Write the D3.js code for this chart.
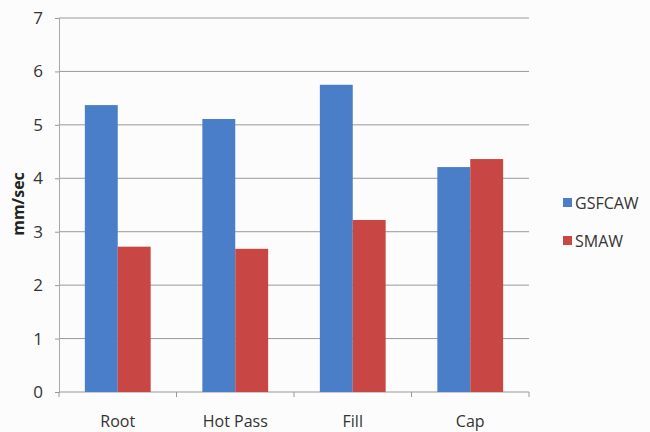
<!DOCTYPE html>
<html>
<head>
<meta charset="utf-8">
<script src="https://cdn.jsdelivr.net/npm/d3@7"></script>
<style>
  html, body { margin: 0; padding: 0; background: #fcfcfc; }
  svg { display: block; }
</style>
</head>
<body>
<svg id="chart" width="650" height="432"></svg>
<script>
// Welding travel speed by pass
const categories = ["Root", "Hot Pass", "Fill", "Cap"];
const seriesNames = ["GSFCAW", "SMAW"];
const gsfcaw = [5.37, 5.11, 5.75, 4.21];
const smaw = [2.72, 2.68, 3.22, 4.36];
const yTicks = [0, 1, 2, 3, 4, 5, 6, 7];
const colors = ["#4b7ec8", "#c84644"];

const svg = d3.select("#chart");
const plot = { left: 59, right: 529, top: 18, bottom: 392 };

const x = d3.scaleBand().domain(categories).range([plot.left, plot.right]).paddingInner(0.44).paddingOuter(0.22);
const xs = d3.scaleBand().domain(seriesNames).range([0, x.bandwidth()]);
const y = d3.scaleLinear().domain([0, 7]).range([plot.bottom, plot.top]);

const font = "'Open Sans', 'Noto Sans', sans-serif";

// horizontal gridlines
svg.append("g").selectAll("line").data(yTicks.filter(d => d > 0)).join("line")
  .attr("x1", plot.left).attr("x2", plot.right)
  .attr("y1", d => y(d)).attr("y2", d => y(d))
  .attr("stroke", "#999").attr("stroke-width", 1);

// y axis
const yAxis = svg.append("g").attr("transform", `translate(${plot.left},0)`)
  .call(d3.axisLeft(y).tickValues(yTicks).tickSize(4).tickPadding(12).tickFormat(d3.format("d")));
yAxis.select(".domain").attr("stroke", "#aaa");
yAxis.selectAll(".tick line").attr("stroke", "#999");
yAxis.selectAll("text").attr("font-family", font).attr("font-size", 17).attr("fill", "#333");

// x axis with ticks at category boundaries
const xAxisG = svg.append("g").attr("transform", `translate(0,${plot.bottom})`);
xAxisG.append("line").attr("x1", plot.left).attr("x2", plot.right)
  .attr("stroke", "#999");
const step = (plot.right - plot.left) / categories.length;
xAxisG.selectAll("line.tk").data(d3.range(categories.length + 1)).join("line")
  .attr("class", "tk")
  .attr("x1", i => plot.left + i * step).attr("x2", i => plot.left + i * step)
  .attr("y1", 0).attr("y2", 5).attr("stroke", "#999");
xAxisG.selectAll("text").data(categories).join("text")
  .attr("x", d => x(d) + x.bandwidth() / 2).attr("y", 35)
  .attr("text-anchor", "middle")
  .attr("font-family", font).attr("font-size", 16).attr("fill", "#333")
  .text(d => d);

// bars
const rows = categories.map((c, i) => ({ cat: c, vals: [gsfcaw[i], smaw[i]] }));
const groups = svg.append("g").selectAll("g").data(rows).join("g")
  .attr("transform", d => `translate(${x(d.cat)},0)`);
groups.selectAll("rect").data(d => d.vals.map((v, j) => ({ name: seriesNames[j], v, j }))).join("rect")
  .attr("x", d => xs(d.name)).attr("width", xs.bandwidth())
  .attr("y", d => y(d.v)).attr("height", d => y(0) - y(d.v))
  .attr("fill", d => colors[d.j]);

// y axis title
svg.append("text")
  .attr("transform", `translate(24,204) rotate(-90)`)
  .attr("text-anchor", "middle")
  .attr("font-family", font).attr("font-size", 16).attr("font-weight", "bold").attr("fill", "#222")
  .text("mm/sec");

// legend
const legend = svg.append("g").selectAll("g").data(seriesNames).join("g")
  .attr("transform", (d, i) => `translate(563,${203 + i * 38})`);
legend.append("rect").attr("x", 0).attr("y", -5).attr("width", 9).attr("height", 9)
  .attr("fill", (d, i) => colors[i]);
legend.append("text").attr("x", 12).attr("y", 5.5)
  .attr("font-family", font).attr("font-size", 16).attr("fill", "#333")
  .text(d => d);
</script>
</body>
</html>
